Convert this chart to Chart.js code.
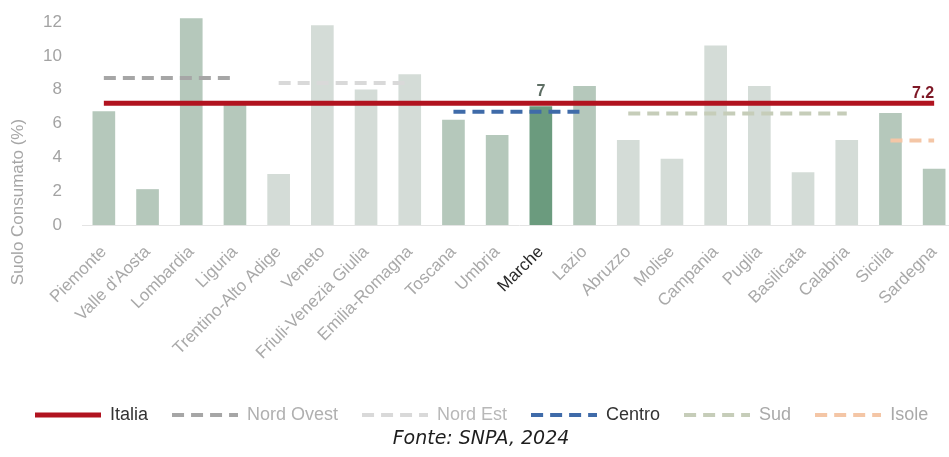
<!DOCTYPE html>
<html>
<head>
<meta charset="utf-8">
<script src="https://cdn.jsdelivr.net/npm/chart.js@4.4.1/dist/chart.umd.min.js"></script>
<style>
  html, body { margin: 0; padding: 0; background: #fff; overflow: hidden; }
  #wrap { position: relative; width: 970px; height: 457px; }
  #fonte { position: absolute; left: 0; width: 962px; top: 426px; line-height: 22px; text-align: center;
           font: italic 19px 'DejaVu Sans'; color: #1e1e1e; }
</style>
</head>
<body>
<div id="wrap">
  <canvas id="chart" width="970" height="457"></canvas>
  <div id="fonte">Fonte: SNPA, 2024</div>
</div>
<script>
// dati
const regioni = ['Piemonte', "Valle d'Aosta", 'Lombardia', 'Liguria', 'Trentino-Alto Adige', 'Veneto',
  'Friuli-Venezia Giulia', 'Emilia-Romagna', 'Toscana', 'Umbria', 'Marche', 'Lazio', 'Abruzzo', 'Molise',
  'Campania', 'Puglia', 'Basilicata', 'Calabria', 'Sicilia', 'Sardegna'];
const consumo = [6.7, 2.1, 12.2, 7.1, 3.0, 11.8, 8.0, 8.9, 6.2, 5.3, 7.0, 8.2, 5.0, 3.9, 10.6, 8.2, 3.1, 5.0, 6.6, 3.3];
const areaRegione = ['Nord Ovest', 'Nord Ovest', 'Nord Ovest', 'Nord Ovest', 'Nord Est', 'Nord Est', 'Nord Est', 'Nord Est',
  'Centro', 'Centro', 'Centro', 'Centro', 'Sud', 'Sud', 'Sud', 'Sud', 'Sud', 'Sud', 'Isole', 'Isole'];
const aree = ['Nord Ovest', 'Nord Est', 'Centro', 'Sud', 'Isole'];
const mediaAree = [8.7, 8.4, 6.7, 6.6, 5.0];
const mediaItalia = 7.2;
const regioneEvidenziata = 'Marche';
const yTicks = [0, 2, 4, 6, 8, 10, 12];

// stili
const coloreArea = { 'Nord Ovest': '#a6a6a6', 'Nord Est': '#d9d9d9', 'Centro': '#3f6ba9', 'Sud': '#c6cdb9', 'Isole': '#f4c6a6' };
const testoArea = { 'Nord Ovest': '#b0b0b0', 'Nord Est': '#b8b8b8', 'Centro': '#333333', 'Sud': '#a9a9a9', 'Isole': '#a9a9a9' };
const barraScura = ['Nord Ovest', 'Centro', 'Isole'];
const TRATTEGGIO = [12, 7];
const LARGH_LEGENDA = 66;

const coloriBarre = regioni.map((r, i) => {
  if (r === regioneEvidenziata) return '#6b9b7e';
  return barraScura.includes(areaRegione[i]) ? '#b5c8bb' : '#d4dcd7';
});

// piccolo campione di linea per la legenda (tratteggiato o pieno)
function campione(colore, spessore, tratteggio) {
  const c = document.createElement('canvas');
  c.width = LARGH_LEGENDA;
  c.height = 8;
  const g = c.getContext('2d');
  g.strokeStyle = colore;
  g.lineWidth = spessore;
  g.setLineDash(tratteggio);
  g.beginPath();
  g.moveTo(0, 4);
  g.lineTo(LARGH_LEGENDA, 4);
  g.stroke();
  return c;
}

const datasets = [{
  label: 'Italia',
  type: 'line',
  data: regioni.map(() => mediaItalia),
  borderColor: '#b1131f',
  backgroundColor: '#b1131f',
  borderWidth: 5,
  pointRadius: 0,
  order: 0,
  fontColor: '#333333',
  sample: campione('#b1131f', 5, [])
}];
aree.forEach((a, k) => {
  datasets.push({
    label: a,
    type: 'line',
    data: regioni.map((r, i) => areaRegione[i] === a ? mediaAree[k] : null),
    borderColor: coloreArea[a],
    backgroundColor: coloreArea[a],
    borderWidth: 4,
    borderDash: TRATTEGGIO,
    pointRadius: 0,
    order: 0,
    fontColor: testoArea[a],
    sample: campione(coloreArea[a], 4, TRATTEGGIO)
  });
});
datasets.push({
  label: 'Suolo consumato',
  type: 'bar',
  data: consumo,
  backgroundColor: coloriBarre,
  barThickness: 22,
  order: 1
});

const etichette = {
  id: 'etichette',
  afterDatasetsDraw(chart) {
    const { ctx, scales: { x, y } } = chart;
    ctx.save();
    const iM = regioni.indexOf(regioneEvidenziata);
    ctx.font = 'bold 16px "Liberation Sans"';
    ctx.fillStyle = '#5e6e64';
    ctx.textAlign = 'center';
    ctx.textBaseline = 'bottom';
    ctx.fillText(String(consumo[iM]), x.getPixelForValue(iM), y.getPixelForValue(consumo[iM]) - 7);
    ctx.fillStyle = '#7e1826';
    ctx.textAlign = 'right';
    ctx.fillText(mediaItalia.toFixed(1), x.getPixelForValue(regioni.length - 1), y.getPixelForValue(mediaItalia) - 2);
    ctx.translate(18, 202);
    ctx.rotate(-Math.PI / 2);
    ctx.textAlign = 'center';
    ctx.textBaseline = 'middle';
    ctx.font = '17px "Liberation Sans"';
    ctx.fillStyle = '#a6a6a6';
    ctx.fillText('Suolo Consumato (%)', 0, 0);
    ctx.restore();
  }
};

new Chart(document.getElementById('chart'), {
  type: 'bar',
  data: { labels: regioni, datasets: datasets },
  options: {
    responsive: false,
    animation: false,
    layout: { padding: { left: 11, right: 14, top: 17, bottom: 23 } },
    plugins: {
      tooltip: { enabled: false },
      legend: {
        position: 'bottom',
        align: 'start',
        labels: {
          usePointStyle: true,
          pointStyleWidth: LARGH_LEGENDA,
          padding: 24,
          font: { family: 'Liberation Sans', size: 18 },
          filter: item => item.text !== 'Suolo consumato',
          generateLabels(chart) {
            const items = Chart.defaults.plugins.legend.labels.generateLabels(chart);
            items.forEach(it => {
              const ds = chart.data.datasets[it.datasetIndex];
              it.fontColor = ds.fontColor;
              it.pointStyle = ds.sample;
            });
            return items;
          }
        }
      }
    },
    scales: {
      x: {
        grid: { display: false },
        border: { display: true, color: '#e4e4e4' },
        ticks: {
          autoSkip: false,
          minRotation: 45,
          maxRotation: 45,
          padding: 9,
          font: { family: 'Liberation Sans', size: 17 },
          color: c => regioni[c.index] === regioneEvidenziata ? '#2a2a2a' : '#a9a9a9'
        },
        afterFit: s => { s.height = 157; }
      },
      y: {
        min: 0,
        max: 12.3,
        grid: { display: false },
        border: { display: false },
        afterBuildTicks: s => { s.ticks = yTicks.map(v => ({ value: v })); },
        ticks: {
          padding: 12,
          font: { family: 'Liberation Sans', size: 17 },
          color: '#a3a3a3'
        },
        afterFit: s => { s.width = 71; s.paddingTop = 0; s.paddingBottom = 0; }
      }
    }
  },
  plugins: [etichette]
});
</script>
</body>
</html>
